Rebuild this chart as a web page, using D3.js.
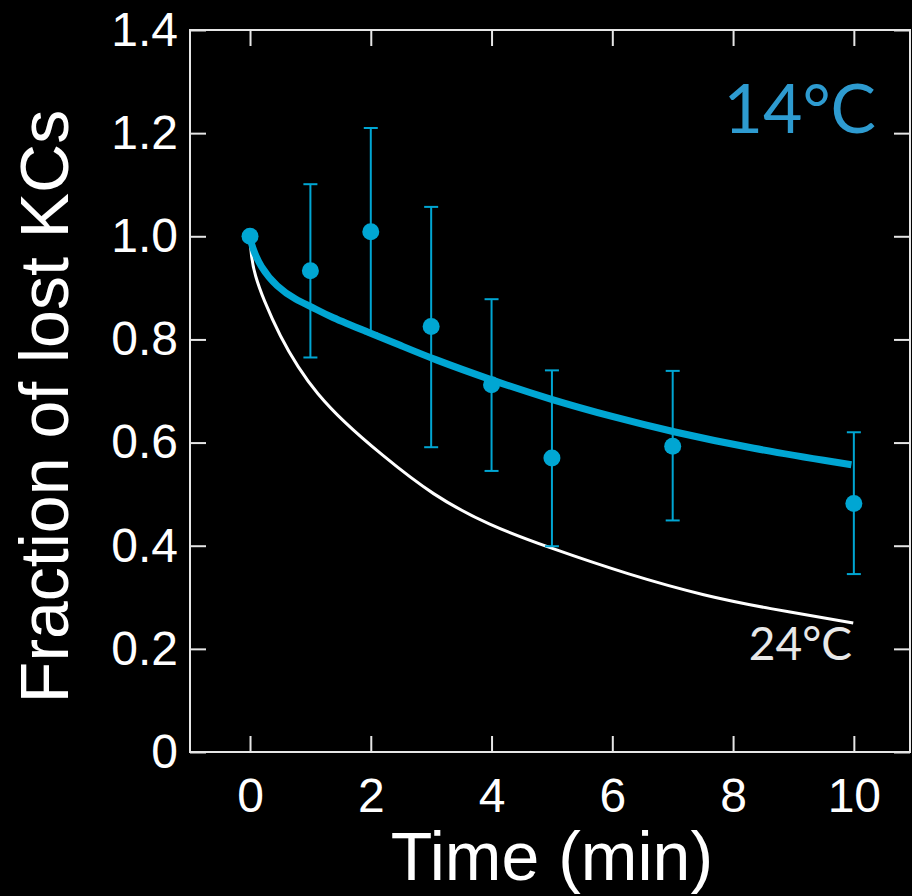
<!DOCTYPE html>
<html>
<head>
<meta charset="utf-8">
<script src="https://cdn.jsdelivr.net/npm/d3@7"></script>
<style>
  body { margin: 0; background: #000; }
  svg { display: block; }
</style>
</head>
<body>
<div id="chart"></div>
<script>
const svgWidth = 912, svgHeight = 896,
    margin = { top: 30, right: 2, bottom: 144, left: 190 },
    width = svgWidth - margin.left - margin.right,
    height = svgHeight - margin.top - margin.bottom;

// measured points at 14°C
const times = [0, 1, 2, 3, 4, 5, 7, 10];
const fraction = [1.0, 0.933, 1.009, 0.825, 0.712, 0.570, 0.593, 0.482];
const errTop = [null, 1.101, 1.210, 1.057, 0.878, 0.740, 0.739, 0.620];
const errBottom = [null, 0.765, 0.812, 0.591, 0.545, 0.399, 0.449, 0.345];

// fitted curve, 14°C
const fit14T = [0, 0.03, 0.17, 0.44, 0.77, 1.01, 1.32, 2.0, 2.48, 3.01, 4.0, 4.99, 6.0, 6.99, 8.28, 9.96];
const fit14Y = [1.0, 0.980, 0.941, 0.902, 0.876, 0.864, 0.844, 0.812, 0.789, 0.763, 0.721, 0.683, 0.650, 0.621, 0.589, 0.557];

// fitted curve, 24°C
const fit24T = [0, 0.02, 0.08, 0.22, 0.50, 0.80, 1.10, 1.55, 2.15, 3.03, 3.97, 4.91, 6.29, 7.56, 8.55, 9.99];
const fit24Y = [1.0, 0.960, 0.925, 0.878, 0.805, 0.745, 0.696, 0.640, 0.579, 0.497, 0.439, 0.398, 0.343, 0.302, 0.279, 0.250];

const xTicks = [0, 2, 4, 6, 8, 10];
const yTicks = [0, 0.2, 0.4, 0.6, 0.8, 1.0, 1.2, 1.4];

const blue = "#00a6d3", frameColor = "#e6e6e6";

let svg = d3.select("#chart").append("svg")
    .attr("width", svgWidth)
    .attr("height", svgHeight)
    .style("background", "#000")
    .append("g")
    .attr("transform", "translate(" + margin.left + "," + margin.top + ")");

let xScale = d3.scaleLinear().domain([-0.994, 10.93]).range([0, width]),
    yScale = d3.scaleLinear().domain([0, 1.4]).range([height, 0]);

// axes, ticks pointing inward on all four sides
let xAxis = svg.append("g")
    .attr("transform", `translate(0, ${height})`)
    .call(d3.axisBottom(xScale).tickValues(xTicks).tickSizeInner(-16).tickSizeOuter(0).tickPadding(26));
let xAxisTop = svg.append("g")
    .call(d3.axisTop(xScale).tickValues(xTicks).tickSizeInner(-16).tickSizeOuter(0).tickFormat(""));
let yAxis = svg.append("g")
    .call(d3.axisLeft(yScale).tickValues(yTicks).tickSizeInner(-16).tickSizeOuter(0).tickPadding(12)
        .tickFormat(d => d === 0 ? "0" : d3.format(".1f")(d)));
let yAxisRight = svg.append("g")
    .attr("transform", `translate(${width}, 0)`)
    .call(d3.axisRight(yScale).tickValues(yTicks).tickSizeInner(-16).tickSizeOuter(0).tickFormat(""));

[xAxis, xAxisTop, yAxis, yAxisRight].forEach(a => {
    a.select(".domain").remove();
    a.selectAll("line").attr("stroke", frameColor).attr("stroke-width", 2);
    a.selectAll("text")
        .attr("fill", "#fff")
        .style("font-family", "'Liberation Sans', Arial, sans-serif")
        .style("font-size", "48px");
});

// frame
svg.append("rect")
    .attr("x", 0).attr("y", 0)
    .attr("width", width).attr("height", height)
    .attr("fill", "none")
    .attr("stroke", frameColor)
    .attr("stroke-width", 2);

// axis titles
svg.append("text")
    .attr("x", xScale(5))
    .attr("y", height + 128)
    .attr("text-anchor", "middle")
    .attr("fill", "#fff")
    .style("font-family", "'Liberation Sans', Arial, sans-serif")
    .style("font-size", "68px")
    .text("Time (min)");

svg.append("text")
    .attr("transform", `translate(-122, ${yScale(0.67)}) rotate(-90)`)
    .attr("text-anchor", "middle")
    .attr("fill", "#fff")
    .style("font-family", "'Liberation Sans', Arial, sans-serif")
    .style("font-size", "68px")
    .text("Fraction of lost KCs");

// fitted curves
let line = d3.line()
    .x(d => xScale(d[0]))
    .y(d => yScale(d[1]))
    .curve(d3.curveBasis);

svg.append("path")
    .datum(fit24T.map((t, i) => [t, fit24Y[i]]))
    .attr("d", line)
    .attr("fill", "none")
    .attr("stroke", "#fff")
    .attr("stroke-width", 3);

svg.append("path")
    .datum(fit14T.map((t, i) => [t, fit14Y[i]]))
    .attr("d", line)
    .attr("fill", "none")
    .attr("stroke", blue)
    .attr("stroke-width", 7);

// error bars
let pts = times.map((t, i) => ({ t: t, y: fraction[i], hi: errTop[i], lo: errBottom[i] }));
let bars = svg.selectAll(".err")
    .data(pts.filter(d => d.hi != null))
    .join("g")
    .attr("class", "err")
    .attr("stroke", blue)
    .attr("stroke-width", 2);
bars.append("line")
    .attr("x1", d => xScale(d.t)).attr("x2", d => xScale(d.t))
    .attr("y1", d => yScale(d.hi)).attr("y2", d => yScale(d.lo));
bars.append("line")
    .attr("x1", d => xScale(d.t) - 7).attr("x2", d => xScale(d.t) + 7)
    .attr("y1", d => yScale(d.hi)).attr("y2", d => yScale(d.hi));
bars.append("line")
    .attr("x1", d => xScale(d.t) - 7).attr("x2", d => xScale(d.t) + 7)
    .attr("y1", d => yScale(d.lo)).attr("y2", d => yScale(d.lo));

svg.selectAll("circle")
    .data(pts)
    .join("circle")
    .attr("cx", d => xScale(d.t))
    .attr("cy", d => yScale(d.y))
    .attr("r", 8.5)
    .attr("fill", blue);

// temperature labels
svg.append("text")
    .attr("x", 876 - margin.left)
    .attr("y", 133 - margin.top)
    .attr("text-anchor", "end")
    .attr("fill", "#2e9bd0")
    .style("font-family", "Lato, 'Open Sans', sans-serif")
    .style("font-size", "68px")
    .text("14°C");

svg.append("text")
    .attr("x", 852 - margin.left)
    .attr("y", 660 - margin.top)
    .attr("text-anchor", "end")
    .attr("fill", "#e8e8e8")
    .style("font-family", "Lato, 'Open Sans', sans-serif")
    .style("font-size", "46px")
    .text("24°C");
</script>
</body>
</html>
